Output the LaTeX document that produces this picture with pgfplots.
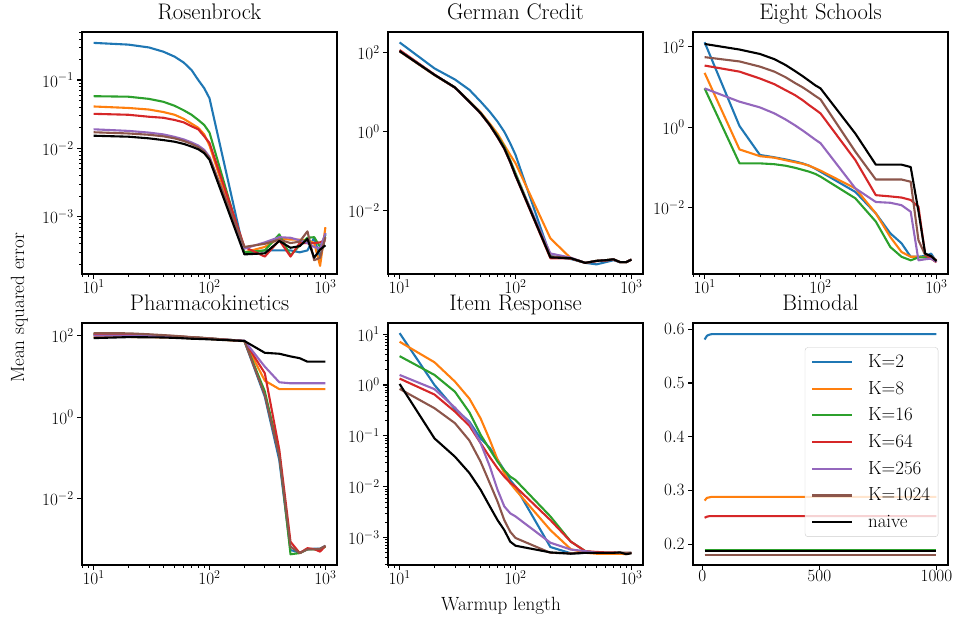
\documentclass[border=0pt]{standalone}
\usepackage{pgfplots}
\usepackage{pgfplotstable}
\pgfplotsset{compat=1.18}

\definecolor{c0}{HTML}{1F77B4}
\definecolor{c1}{HTML}{FF7F0E}
\definecolor{c2}{HTML}{2CA02C}
\definecolor{c3}{HTML}{D62728}
\definecolor{c4}{HTML}{9467BD}
\definecolor{c5}{HTML}{8C564B}

% warmup lengths: 10,20,...,100,200,...,1000
\pgfplotstableread{
x k2 k8 k16 k64 k256 k1024 naive
10 0.35 0.041 0.058 0.032 0.0190 0.0172 0.0153
20 0.33 0.039 0.057 0.031 0.0180 0.0165 0.0148
30 0.30 0.037 0.053 0.029 0.0170 0.0158 0.0140
40 0.26 0.034 0.048 0.028 0.0160 0.0150 0.0132
50 0.22 0.031 0.042 0.026 0.0147 0.0140 0.0125
60 0.18 0.027 0.036 0.024 0.0135 0.0128 0.0116
70 0.14 0.023 0.031 0.021 0.0122 0.0116 0.0106
80 0.10 0.020 0.026 0.019 0.0110 0.0104 0.0097
90 0.076 0.016 0.022 0.015 0.0095 0.0090 0.0085
100 0.054 0.011 0.017 0.012 0.0075 0.0072 0.0068
200 2.9e-4 3.0e-4 3.0e-4 3.6e-4 3.4e-4 3.6e-4 2.8e-4
300 3.2e-4 3.6e-4 3.2e-4 2.6e-4 4.2e-4 4.0e-4 2.9e-4
400 3.2e-4 4.8e-4 5.5e-4 4.5e-4 5.0e-4 4.6e-4 4.4e-4
500 3.2e-4 4.6e-4 2.7e-4 2.6e-4 4.9e-4 4.1e-4 3.5e-4
600 3.0e-4 4.6e-4 3.8e-4 4.1e-4 4.5e-4 4.3e-4 3.7e-4
700 3.2e-4 4.5e-4 4.9e-4 4.1e-4 4.1e-4 6.1e-4 4.7e-4
800 4.9e-4 4.1e-4 5.0e-4 4.1e-4 3.6e-4 2.3e-4 2.5e-4
900 2.5e-4 1.9e-4 3.6e-4 4.2e-4 3.4e-4 2.5e-4 3.3e-4
1000 5.7e-4 7.0e-4 5.4e-4 4.5e-4 5.7e-4 5.0e-4 3.8e-4
}\rosen

\pgfplotstableread{
x k2 k8 k16 k64 k256 k1024 naive
10 182 108 110 117 110 110 110
20 40 27 27.5 28 27.5 27.5 27.5
30 21 13.2 13.2 13.0 13.2 13.2 13.2
40 11.5 5.9 5.8 5.7 5.75 5.75 5.75
50 5.8 3.1 3.0 2.9 2.95 2.95 2.95
60 3.2 1.6 1.5 1.45 1.48 1.48 1.48
70 1.8 0.89 0.79 0.72 0.74 0.74 0.74
80 1.0 0.46 0.42 0.37 0.38 0.38 0.38
90 0.51 0.26 0.19 0.17 0.174 0.174 0.174
100 0.26 0.16 0.089 0.077 0.079 0.079 0.079
200 7.1e-4 2.0e-3 6.6e-4 6.3e-4 8.3e-4 7.0e-4 6.6e-4
300 6.0e-4 6.3e-4 6.3e-4 6.2e-4 6.5e-4 6.3e-4 6.3e-4
400 4.8e-4 4.8e-4 4.8e-4 4.8e-4 4.8e-4 4.8e-4 4.8e-4
500 4.4e-4 5.4e-4 5.4e-4 5.3e-4 5.4e-4 5.4e-4 5.4e-4
600 5.0e-4 5.6e-4 5.6e-4 5.5e-4 5.6e-4 5.6e-4 5.6e-4
700 5.6e-4 5.9e-4 5.9e-4 5.8e-4 5.9e-4 5.9e-4 5.9e-4
800 5.0e-4 5.0e-4 5.0e-4 5.0e-4 5.0e-4 5.0e-4 5.0e-4
900 5.0e-4 5.0e-4 5.0e-4 5.0e-4 5.0e-4 5.0e-4 5.0e-4
1000 5.8e-4 5.8e-4 5.8e-4 5.8e-4 5.8e-4 5.8e-4 5.8e-4
}\german

\pgfplotstableread{
x k2 k8 k16 k64 k256 k1024 naive
10 129 22.4 9.2 34 9.2 55 117
20 1.07 0.28 0.126 24 4.3 43 85
30 0.204 0.19 0.126 16.2 3.1 32 66
40 0.178 0.174 0.12 11.7 2.2 24 49
50 0.158 0.151 0.11 8.3 1.55 17.4 35
60 0.141 0.135 0.098 6.3 1.12 12.6 25
70 0.126 0.123 0.087 4.7 0.83 9.8 18.6
80 0.11 0.11 0.078 3.5 0.63 7.6 14.1
90 0.093 0.095 0.069 2.75 0.49 6.0 11
100 0.078 0.083 0.059 2.2 0.40 4.9 9.2
200 0.0245 0.030 0.017 0.151 0.030 0.245 0.69
300 7.2e-3 7.2e-3 4.5e-3 0.0204 0.0138 0.050 0.117
400 2.3e-3 1.86e-3 1.05e-3 0.019 0.0132 0.050 0.117
500 1.3e-3 7.9e-4 6.0e-4 0.0178 0.0115 0.050 0.117
600 6.0e-4 6.0e-4 4.9e-4 0.0155 7.9e-3 0.044 0.102
700 6.0e-4 6.0e-4 5.8e-4 0.0105 4.9e-4 1.55e-3 8.1e-3
800 6.3e-4 5.8e-4 5.8e-4 6.6e-4 5.2e-4 6.6e-4 7.2e-4
900 7.2e-4 5.4e-4 5.4e-4 5.4e-4 5.4e-4 6.3e-4 6.2e-4
1000 4.5e-4 4.7e-4 4.5e-4 4.4e-4 4.5e-4 4.9e-4 4.7e-4
}\schools

\pgfplotstableread{
x k2 k8 k16 k64 k256 k1024 naive
10 105 93 108 110 100 115 87
20 104 93 106 108 100 114 92
30 101 92 103 104 98 108 91
40 98 91 99 100 96 103 90
50 95 90 96 97 93 99 88
60 93 88 93 94 91 95 86
70 91 87 91 91 89 92 84
80 89 86 89 89 87 90 83
90 87 85 87 87 85 88 82
100 85 83 85 85 84 86 81
200 74 73 74 74 75 74 74
300 3.2 7.9 4.3 12 17.4 3.5 38
400 0.089 4.9 0.13 0.16 7.2 0.11 36
500 5.6e-4 4.9 4.4e-4 8.9e-4 6.8 6.8e-4 31
600 4.8e-4 4.9 4.7e-4 4.7e-4 6.8 4.7e-4 28
700 5.8e-4 4.9 5.8e-4 6.2e-4 6.8 5.8e-4 23
800 6.0e-4 4.9 5.8e-4 5.9e-4 6.8 5.8e-4 23
900 6.0e-4 4.9 5.6e-4 5.1e-4 6.8 6.0e-4 23
1000 7.1e-4 4.9 6.8e-4 7.1e-4 6.8 7.1e-4 23
}\pharma

\pgfplotstableread{
x k2 k8 k16 k64 k256 k1024 naive
10 10.5 7.1 3.7 1.34 1.58 0.84 1.05
20 1.0 2.8 1.58 0.65 0.83 0.35 0.089
30 0.34 1.17 0.74 0.30 0.36 0.178 0.039
40 0.19 0.54 0.29 0.158 0.18 0.081 0.0186
50 0.089 0.22 0.105 0.072 0.072 0.031 8.7e-3
60 0.058 0.083 0.054 0.038 0.025 0.0117 4.1e-3
70 0.034 0.034 0.031 0.023 8.7e-3 5.1e-3 2.2e-3
80 0.021 0.0186 0.021 0.0158 4.1e-3 2.2e-3 1.4e-3
90 0.0135 0.0117 0.0158 0.012 3.0e-3 1.3e-3 8.3e-4
100 0.010 8.7e-3 0.0135 0.010 2.6e-3 9.8e-4 6.9e-4
200 6.5e-4 1.4e-3 2.6e-3 2.2e-3 7.9e-4 5.0e-4 5.1e-4
300 4.9e-4 5.9e-4 8.3e-4 8.3e-4 5.8e-4 4.9e-4 4.8e-4
400 5.0e-4 5.0e-4 5.4e-4 5.4e-4 5.4e-4 5.0e-4 5.0e-4
500 5.0e-4 4.8e-4 5.0e-4 5.2e-4 5.0e-4 5.0e-4 5.0e-4
600 5.0e-4 4.8e-4 5.0e-4 5.1e-4 5.0e-4 5.0e-4 5.0e-4
700 4.9e-4 4.8e-4 5.0e-4 5.1e-4 5.0e-4 5.0e-4 5.0e-4
800 4.9e-4 4.8e-4 5.0e-4 5.0e-4 5.0e-4 5.0e-4 5.1e-4
900 4.9e-4 4.7e-4 5.0e-4 5.0e-4 5.0e-4 5.0e-4 4.7e-4
1000 5.0e-4 5.0e-4 5.0e-4 5.0e-4 5.0e-4 5.0e-4 4.9e-4
}\itemresp

\pgfplotstableread{
x k2 k8 k16 k64 k256 k1024 naive
10 0.581 0.281 0.189 0.249 0.180 0.180 0.187
20 0.588 0.286 0.189 0.251 0.180 0.180 0.187
30 0.590 0.287 0.189 0.252 0.180 0.180 0.187
40 0.591 0.288 0.189 0.252 0.180 0.180 0.187
50 0.591 0.288 0.189 0.252 0.180 0.180 0.187
100 0.591 0.288 0.189 0.252 0.180 0.180 0.187
200 0.591 0.288 0.189 0.252 0.180 0.180 0.187
500 0.591 0.288 0.189 0.252 0.180 0.180 0.187
1000 0.591 0.288 0.189 0.252 0.180 0.180 0.187
}\bimodal

\newcommand{\allseries}[1]{%
  \addplot[c0] table[y=k2]{#1};
  \addplot[c1] table[y=k8]{#1};
  \addplot[c2] table[y=k16]{#1};
  \addplot[c3] table[y=k64]{#1};
  \addplot[c4] table[y=k256]{#1};
  \addplot[c5] table[y=k1024]{#1};
  \addplot[black] table[y=naive]{#1};
}

\pgfplotsset{
  panel/.style={
    scale only axis, width=255bp, height=242bp, anchor=south west,
    axis line style={line width=1.1bp},
    tick pos=left, tick align=outside,
    major tick length=4.9bp, minor tick length=2.8bp,
    major tick style={line width=1.1bp, black},
    minor tick style={line width=0.8bp, black},
    tick label style={font=\fontsize{17.5}{20}\selectfont},
    xticklabel style={yshift=3bp},
    title style={font=\fontsize{22.6}{26}\selectfont, at={(0.5,1)}, anchor=base,
      yshift=7bp, inner sep=0.5bp},
    every axis plot/.append style={line width=2.1bp, line join=round, no marks},
  },
  logpanel/.style={
    panel,
    xmin=7.943, xmax=1258.9,
    xtick={10,100,1000},
    minor xtick={8,9,20,30,40,50,60,70,80,90,200,300,400,500,600,700,800,900},
  },
  nominor/.style={minor y tick style={draw=none}},
}

\begin{document}
\begin{tikzpicture}
\path[use as bounding box] (0,0) rectangle (955bp,620bp);

\begin{loglogaxis}[logpanel, at={(82bp,346bp)}, title={Rosenbrock},
  ymin=1.445e-4, ymax=0.505, ytick={1e-3,1e-2,1e-1},
  minor ytick={2e-4,3e-4,4e-4,5e-4,6e-4,7e-4,8e-4,9e-4,2e-3,3e-3,4e-3,5e-3,6e-3,7e-3,8e-3,9e-3,2e-2,3e-2,4e-2,5e-2,6e-2,7e-2,8e-2,9e-2,2e-1,3e-1,4e-1,5e-1}]
\allseries{\rosen}
\end{loglogaxis}

\begin{loglogaxis}[logpanel, nominor, at={(388bp,346bp)}, title={German Credit},
  ymin=2.51e-4, ymax=334, ytick={1e-2,1,1e2}]
\allseries{\german}
\end{loglogaxis}

\begin{loglogaxis}[logpanel, nominor, at={(693bp,346bp)}, title={Eight Schools},
  ymin=2.24e-4, ymax=232, ytick={1e-2,1,1e2}]
\allseries{\schools}
\end{loglogaxis}

\begin{loglogaxis}[logpanel, nominor, at={(82bp,55bp)}, title={Pharmacokinetics},
  ymin=2.4e-4, ymax=204, ytick={1e-2,1,1e2}]
\allseries{\pharma}
\end{loglogaxis}

\begin{loglogaxis}[logpanel, at={(388bp,55bp)}, title={Item Response},
  ymin=2.88e-4, ymax=16.6, ytick={1e-3,1e-2,1e-1,1,10},
  minor ytick={3e-4,4e-4,5e-4,6e-4,7e-4,8e-4,9e-4,2e-3,3e-3,4e-3,5e-3,6e-3,7e-3,8e-3,9e-3,2e-2,3e-2,4e-2,5e-2,6e-2,7e-2,8e-2,9e-2,2e-1,3e-1,4e-1,5e-1,6e-1,7e-1,8e-1,9e-1,2,3,4,5,6,7,8,9}]
\allseries{\itemresp}
\end{loglogaxis}

\begin{axis}[panel, at={(693bp,55bp)}, title={Bimodal},
  xmin=-39.5, xmax=1049.5, ymin=0.161, ymax=0.6118,
  xtick={0,500,1000}, ytick={0.2,0.3,0.4,0.5,0.6},
  yticklabel style={/pgf/number format/fixed, /pgf/number format/precision=1},
  /pgf/number format/1000 sep={},
  legend cell align=left,
  legend image code/.code={\draw[#1] (0bp,0bp) -- (40bp,0bp);},
  legend style={at={(0.962,0.8996)}, anchor=north east,
    font=\fontsize{19}{22}\selectfont,
    draw=black!20, rounded corners=3bp, fill=white, fill opacity=0.8, text opacity=1,
    inner xsep=6bp, inner ysep=6bp, row sep=9.7bp, column sep=13bp,
    nodes={inner sep=2bp, text height=12bp, text depth=1bp}}]
\allseries{\bimodal}
\legend{K=2,K=8,K=16,K=64,K=256,K=1024,naive}
\end{axis}

\node[font=\fontsize{19.2}{22}\selectfont, anchor=base] at (501bp,9.5bp) {Warmup length};
\node[font=\fontsize{19.2}{22}\selectfont, rotate=90, anchor=base] at (24bp,312bp) {Mean squared error};
\end{tikzpicture}
\end{document}
